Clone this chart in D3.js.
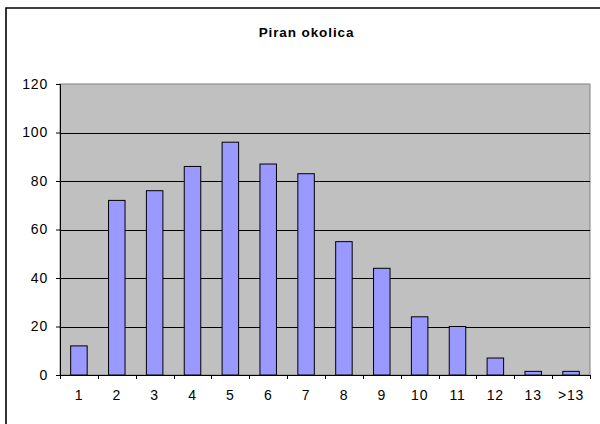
<!DOCTYPE html>
<html>
<head>
<meta charset="utf-8">
<script src="https://cdn.jsdelivr.net/npm/d3@7"></script>
<style>
  html, body { margin: 0; padding: 0; background: #fff; overflow: hidden; width: 600px; height: 424px; }
  svg { display: block; }
  text { font-family: "Liberation Sans", Arial, sans-serif; fill: #000; }
</style>
</head>
<body>
<svg id="chart" width="600" height="424"></svg>
<script>
const title = "Piran okolica";
const categories = ["1","2","3","4","5","6","7","8","9","10","11","12","13",">13"];
const values = [12, 72, 76, 86, 96, 87, 83, 55, 44, 24, 20, 7, 1.5, 1.5];
const yTicks = [0, 20, 40, 60, 80, 100, 120];

const svg = d3.select("#chart");
const plot = {left: 60, right: 590, top: 84, bottom: 375};
const font = "Liberation Sans, Arial, sans-serif";

svg.append("rect").attr("x", 0).attr("y", 0).attr("width", 600).attr("height", 424).attr("fill", "#fff");

// outer frame: only top and left edges fall inside the picture
svg.append("path")
  .attr("d", "M6,430 L6,8 L606,8")
  .attr("fill", "none").attr("stroke", "#000").attr("stroke-width", 1.6);

svg.append("text")
  .attr("x", 306.5).attr("y", 36.5)
  .attr("text-anchor", "middle")
  .attr("font-size", 13.5).attr("font-weight", "bold")
  .attr("letter-spacing", 0.9)
  .text(title);

const x = d3.scaleBand().domain(categories).range([plot.left, plot.right]).paddingInner(0).paddingOuter(0);
const y = d3.scaleLinear().domain([0, 120]).range([plot.bottom, plot.top]);

// plot area
svg.append("rect")
  .attr("x", plot.left).attr("y", plot.top)
  .attr("width", plot.right - plot.left).attr("height", plot.bottom - plot.top)
  .attr("fill", "#c0c0c0").attr("stroke", "#808080").attr("stroke-width", 1);

// gridlines
svg.append("g").selectAll("line")
  .data(yTicks.filter(d => d > 0 && d < 120))
  .join("line")
  .attr("x1", plot.left).attr("x2", plot.right)
  .attr("y1", d => Math.round(y(d)) + 0.5).attr("y2", d => Math.round(y(d)) + 0.5)
  .attr("stroke", "#000").attr("stroke-width", 1);

// bars
const bw = 16.5;
svg.append("g").selectAll("rect")
  .data(values)
  .join("rect")
  .attr("x", (d, i) => x(categories[i]) + x.bandwidth() / 2 - bw / 2)
  .attr("y", d => y(d))
  .attr("width", bw)
  .attr("height", d => y(0) - y(d))
  .attr("fill", "#9999ff")
  .attr("stroke", "#000").attr("stroke-width", 1);

// y axis
const yAxis = d3.axisLeft(y).tickValues(yTicks).tickSize(4).tickPadding(8);
const gy = svg.append("g").attr("transform", `translate(${plot.left},0)`).call(yAxis);
gy.select(".domain").attr("stroke", "#000");
gy.selectAll(".tick line").attr("stroke", "#000");
gy.selectAll(".tick text")
  .attr("x", -12)
  .attr("font-size", 14).attr("font-family", font).attr("fill", "#000").attr("letter-spacing", 0.8);

// x axis
const xAxis = d3.axisBottom(x).tickSize(0).tickPadding(0);
const gx = svg.append("g").attr("transform", `translate(0,${plot.bottom})`).call(xAxis);
gx.select(".domain").remove();
gx.selectAll(".tick line").remove();
gx.selectAll(".tick text")
  .attr("dy", null).attr("y", 24.5)
  .attr("font-size", 14).attr("font-family", font).attr("fill", "#000").attr("letter-spacing", 0.8);
svg.append("line")
  .attr("x1", plot.left).attr("x2", plot.right)
  .attr("y1", plot.bottom + 0.5).attr("y2", plot.bottom + 0.5)
  .attr("stroke", "#000");
// category boundary ticks
const bounds = categories.map(c => x(c)).concat([plot.right]);
svg.append("g").selectAll("line")
  .data(bounds)
  .join("line")
  .attr("x1", d => Math.round(d) + 0.5).attr("x2", d => Math.round(d) + 0.5)
  .attr("y1", plot.bottom).attr("y2", plot.bottom + 4)
  .attr("stroke", "#000");
</script>
</body>
</html>
